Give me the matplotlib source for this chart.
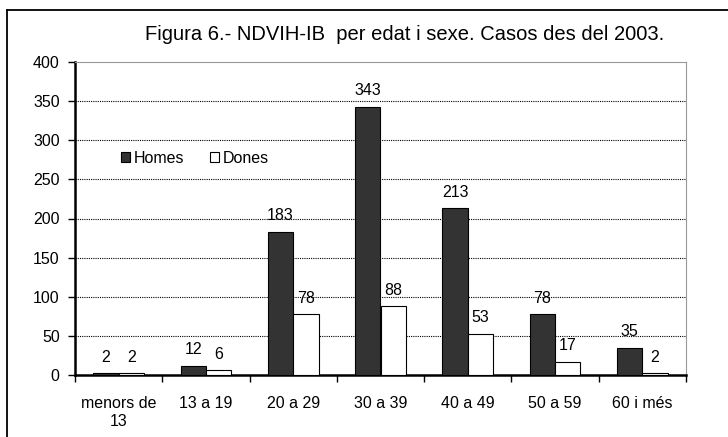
import matplotlib
matplotlib.use("Agg")
import matplotlib.pyplot as plt
from matplotlib.lines import Line2D
import numpy as np

plt.rcParams['font.family'] = ['Liberation Sans', 'DejaVu Sans']

categories = ["menors de\n13", "13 a 19", "20 a 29", "30 a 39", "40 a 49", "50 a 59", "60 i més"]
homes = [2, 12, 183, 343, 213, 78, 35]
dones = [2, 6, 78, 88, 53, 17, 2]
yticks = list(range(0, 401, 50))

fig = plt.figure(figsize=(7.28, 4.37), dpi=100)
ax = fig.add_axes([75/728, 1 - 375/437, 611/728, 313/437])

x = np.arange(len(categories))
w = 0.29
b1 = ax.bar(x - w/2, homes, w, color="#333333", edgecolor="black", linewidth=0.8, label="Homes", zorder=3)
b2 = ax.bar(x + w/2, dones, w, color="white", edgecolor="black", linewidth=0.8, label="Dones", zorder=3)

for rects, vals in ((b1, homes), (b2, dones)):
    for r, v in zip(rects, vals):
        ax.annotate(str(v), (r.get_x() + r.get_width()/2, v), xytext=(0, 6),
                    textcoords="offset points", ha="center", va="bottom", fontsize=11.5)

ax.set_xlim(-0.5, len(categories) - 0.5)
ax.set_ylim(0, 400)
ax.set_yticks(yticks)
# boundary ticks as major, labels on minor ticks at the centres
ax.set_xticks(np.arange(-0.5, len(categories)))
ax.set_xticklabels([])
ax.set_xticks(x, minor=True)
ax.set_xticklabels(categories, minor=True, fontsize=11.5, linespacing=1.25)
ax.tick_params(axis="x", which="minor", length=0, pad=15)
ax.tick_params(axis="x", which="major", length=5, width=1, direction="out")
ax.tick_params(axis="y", labelsize=11.5, length=5, width=1, direction="out", pad=6)

# dotted gridlines, skipping 0 and the top edge
for t in yticks[1:-1]:
    ax.axhline(t, linestyle=(0, (1, 1)), color="black", linewidth=0.8, zorder=0)
ax.spines["left"].set_linewidth(1.8)
ax.spines["bottom"].set_linewidth(1.8)
ax.spines["top"].set_color("#999999")
ax.spines["right"].set_color("#999999")

ax.legend(loc="center left", bbox_to_anchor=(0.075, 0.693), ncol=2, frameon=False,
          fontsize=11.5, handlelength=0.6, handleheight=0.6, handletextpad=0.2,
          columnspacing=1.6, borderaxespad=0, borderpad=0)

fig.text(405/728, 1 - 35/437, "Figura 6.- NDVIH-IB  per edat i sexe. Casos des del 2003.",
         ha="center", va="center", fontsize=14.5)

fig.add_artist(Line2D([7/728, 7/728], [0, 1 - 10/437], color="black", linewidth=1.3,
                      transform=fig.transFigure))
fig.add_artist(Line2D([7/728, 1], [1 - 10/437, 1 - 10/437], color="black", linewidth=1.3,
                      transform=fig.transFigure))

fig.savefig("out.png", dpi=100)
